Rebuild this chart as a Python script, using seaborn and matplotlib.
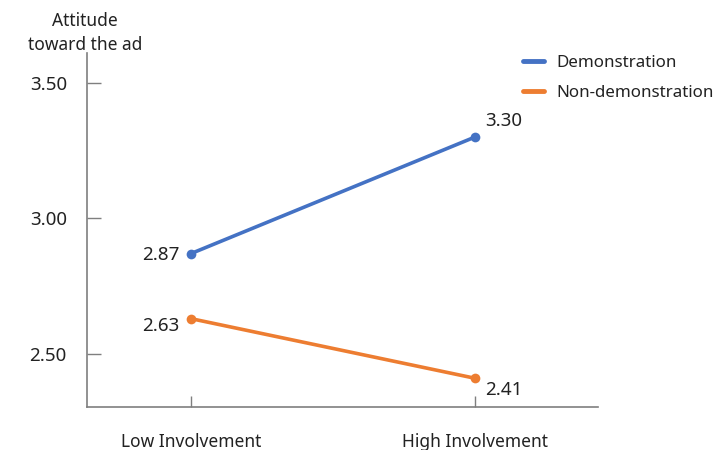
import matplotlib
matplotlib.use("Agg")
import matplotlib.pyplot as plt
import seaborn as sns
import pandas as pd

# Chart data
conditions = ["Low Involvement", "High Involvement"]
series_names = ["Demonstration", "Non-demonstration"]
demonstration = [2.87, 3.30]
non_demonstration = [2.63, 2.41]
y_ticks = [2.50, 3.00, 3.50]

colors = {"Demonstration": "#4472C4", "Non-demonstration": "#ED7D31"}

rows = []
for name, vals in zip(series_names, [demonstration, non_demonstration]):
    for i, v in enumerate(vals):
        rows.append({"pos": i, "condition": conditions[i], "series": name, "value": v})
df = pd.DataFrame(rows)

sns.set_theme(style="white")
plt.rcParams["font.family"] = ["Noto Sans", "DejaVu Sans"]

fig = plt.figure(figsize=(7.18, 4.5), dpi=100)
ax = fig.add_axes([87 / 718, 43 / 450, 511 / 718, 354 / 450])

sns.lineplot(data=df, x="pos", y="value", hue="series", palette=colors,
             marker="o", markersize=7, markeredgewidth=0, linewidth=2.6,
             ax=ax, legend=False)

ax.set_xlim(-0.366, 1.433)
ax.set_ylim(2.304, 3.61)
ax.set_xticks(range(len(conditions)))
ax.set_xticklabels(conditions, fontsize=12.5, color="#222222")
ax.set_yticks(y_ticks)
ax.set_yticklabels([f"{t:.2f}" for t in y_ticks], fontsize=13.5, color="#222222")
ax.set_xlabel("")
ax.set_ylabel("")

ax.tick_params(axis="x", direction="in", length=8, width=1, color="#7f7f7f", pad=18.5)
ax.tick_params(axis="y", direction="in", length=10, width=1, color="#7f7f7f", pad=14.5)
ax.tick_params(left=True, bottom=True)

for side in ["top", "right"]:
    ax.spines[side].set_visible(False)
for side in ["left", "bottom"]:
    ax.spines[side].set_color("#7f7f7f")
    ax.spines[side].set_linewidth(1.2)

# Value labels
offsets = {
    ("Demonstration", 0): (-8, -1, "right", "center"),
    ("Demonstration", 1): (7, 5, "left", "bottom"),
    ("Non-demonstration", 0): (-8, -5, "right", "center"),
    ("Non-demonstration", 1): (7, -2, "left", "top"),
}
for name, vals in zip(series_names, [demonstration, non_demonstration]):
    for i, v in enumerate(vals):
        dx, dy, ha, va = offsets[(name, i)]
        ax.annotate(f"{v:.2f}", (i, v), xytext=(dx, dy), textcoords="offset points",
                    ha=ha, va=va, fontsize=13.5, color="#222222")

# Axis title above the y axis
fig.text(85 / 718, 1 - 33 / 450, "Attitude\ntoward the ad", ha="center", va="center",
         fontsize=12.5, color="#222222", linespacing=1.45)

# Legend
handles = [plt.Line2D([], [], color=colors[n], linewidth=3.5) for n in series_names]
fig.legend(handles, series_names, loc="upper left", bbox_to_anchor=(508 / 718, 1 - 40 / 450),
           frameon=False, fontsize=12.2, handlelength=1.25, handletextpad=0.7,
           labelspacing=0.8, labelcolor="#222222")

fig.savefig("out.png", dpi=100)
